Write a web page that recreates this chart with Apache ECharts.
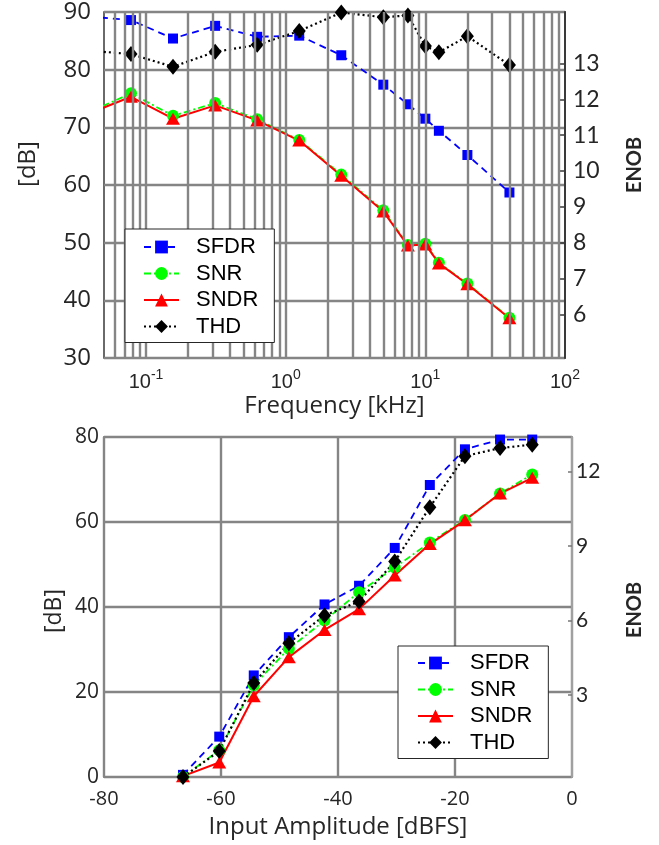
<!DOCTYPE html>
<html><head><meta charset="utf-8">
<script src="https://cdn.jsdelivr.net/npm/echarts@6/dist/echarts.min.js"></script>
<style>html,body{margin:0;padding:0;background:#fff}#c{width:659px;height:845px}</style>
</head><body><div id="c"></div>
<script>
// ---- top chart: metrics vs input frequency ----
const freqKHz = [0.039, 0.078, 0.156, 0.3125, 0.625, 1.25, 2.5, 5, 7.5, 10, 12.5, 20, 40];
const sfdrF = [89.2, 88.6, 85.4, 87.6, 85.7, 85.9, 82.5, 77.4, 74.0, 71.5, 69.4, 65.2, 58.7];
const snrF  = [72.6, 75.9, 72.0, 74.2, 71.4, 67.8, 61.8, 55.6, 49.6, 49.8, 46.5, 42.9, 37.0];
const sndrF = [72.4, 75.3, 71.5, 73.8, 71.2, 67.7, 61.6, 55.4, 49.5, 49.7, 46.4, 42.8, 36.9];
const thdF  = [83.3, 82.7, 80.5, 83.1, 84.3, 86.7, 89.9, 89.1, 89.4, 84.1, 83.0, 85.8, 80.8];
const freqTicks = [0.1, 1, 10, 100];
const enobTicksTop = [6, 7, 8, 9, 10, 11, 12, 13];

// ---- bottom chart: metrics vs input amplitude ----
const ampDBFS = [-66.5, -60.3, -54.4, -48.4, -42.3, -36.4, -30.3, -24.3, -18.3, -12.3, -6.8];
const sfdrA = [0.5, 9.5, 23.9, 32.9, 40.6, 45.0, 53.9, 68.7, 77.1, 79.4, 79.4];
const snrA  = [0.0, 6.3, 21.6, 30.2, 36.8, 43.5, 49.3, 55.2, 60.5, 66.7, 71.2];
const sndrA = [0.2, 3.4, 19.0, 28.2, 34.6, 39.5, 47.4, 54.8, 60.4, 66.7, 70.4];
const thdA  = [0.0, 6.1, 22.1, 31.5, 38.0, 41.3, 50.7, 63.5, 75.5, 77.4, 78.2];
const enobTicksBot = [3, 6, 9, 12];

const names = ['SFDR', 'SNR', 'SNDR', 'THD'];
const TXT = '#262626';
const GRID = '#858585';

const sty = {
  SFDR: {color: '#0000ff', symbol: 'rect', size: 10, type: [7, 5], width: 1.8},
  SNR:  {color: '#00ff00', symbol: 'circle', size: 12, type: [7, 3, 2, 3], width: 1.8},
  SNDR: {color: '#ff0000', symbol: 'triangle', size: [14, 12], type: 'solid', width: 2},
  THD:  {color: '#000000', symbol: 'diamond', size: [13, 16], type: [2, 3], width: 2.2}
};

function mk(name, xs, ys, idx) {
  const s = sty[name];
  return {
    name: name, type: 'line', xAxisIndex: idx, yAxisIndex: idx * 2,
    data: xs.map((v, i) => [v, ys[i]]),
    symbol: s.symbol, symbolSize: s.size, showSymbol: true, clip: true,
    itemStyle: {color: s.color, borderWidth: 0},
    lineStyle: {color: s.color, width: s.width, type: s.type},
    emphasis: {disabled: true}, animation: false, z: 3
  };
}

// minor log grid lines (1..9 per decade) for the frequency axis
const logGrid = [];
[0.01, 0.1, 1, 10].forEach(d => { for (let k = 1; k <= 9; k++) { const v = +(d * k).toPrecision(3); if (v > 0.05 && v < 100) logGrid.push(v); } });

const topData = [sfdrF, snrF, sndrF, thdF];
const botData = [sfdrA, snrA, sndrA, thdA];

const series = [];
series.push({
  type: 'line', xAxisIndex: 0, yAxisIndex: 0, data: [], z: 1, silent: true, animation: false,
  markLine: {silent: true, symbol: ['none', 'none'], label: {show: false}, animation: false,
    lineStyle: {color: GRID, width: 2.4, type: 'solid', opacity: 1},
    emphasis: {disabled: true},
    data: logGrid.map(v => ({xAxis: v}))}
});
names.forEach((n, i) => series.push(mk(n, freqKHz, topData[i], 0)));
names.forEach((n, i) => series.push(mk(n, ampDBFS, botData[i], 1)));

const legendBase = {
  orient: 'vertical', data: names, itemWidth: 35, itemHeight: 16, itemGap: 4.5,
  borderColor: '#262626', borderWidth: 1, backgroundColor: '#fff',
  textStyle: {fontFamily: 'Liberation Sans', fontSize: 22, color: '#000', padding: [0, 0, 0, 12], lineHeight: 22},
  selectedMode: false, z: 10
};

const option = {
  animation: false,
  backgroundColor: '#fff',
  grid: [
    {left: 104, top: 10, width: 461, height: 348, show: true, borderColor: '#3a3a3a', borderWidth: 1.5, backgroundColor: 'transparent'},
    {left: 104, top: 437, width: 468, height: 340, show: true, borderColor: '#3a3a3a', borderWidth: 1.5, backgroundColor: 'transparent'}
  ],
  legend: [
    Object.assign({}, legendBase, {left: 125, top: 229, padding: [7, 16, 5, 18]}),
    Object.assign({}, legendBase, {left: 398, top: 646, padding: [6, 16, 5, 19]})
  ],
  xAxis: [
    {type: 'log', logBase: 10, gridIndex: 0, min: 0.05, max: 100,
     name: 'Frequency [kHz]', nameLocation: 'middle', nameGap: 36,
     nameTextStyle: {fontFamily: 'Open Sans', fontSize: 24, color: TXT},
     axisLine: {show: false}, axisTick: {show: false}, splitLine: {show: false},
     axisLabel: {customValues: freqTicks, margin: 10,
       formatter: v => '{b|10}{s|' + Math.round(Math.log10(v)) + '}',
       rich: {b: {fontFamily: 'Liberation Sans', fontSize: 20, color: TXT, verticalAlign: 'bottom'},
              s: {fontFamily: 'Liberation Sans', fontSize: 14, color: TXT, padding: [0, 0, 10, 0], verticalAlign: 'bottom'}}}},
    {type: 'value', gridIndex: 1, min: -80, max: 0, interval: 20,
     name: 'Input Amplitude [dBFS]', nameLocation: 'middle', nameGap: 38,
     nameTextStyle: {fontFamily: 'Open Sans', fontSize: 24, color: TXT},
     axisLine: {show: false}, axisTick: {show: false},
     splitLine: {show: true, lineStyle: {color: GRID, width: 2.4}},
     axisLabel: {fontFamily: 'Open Sans', fontSize: 20, color: TXT, margin: 12}}
  ],
  yAxis: [
    {type: 'value', gridIndex: 0, min: 30, max: 90, interval: 10, position: 'left',
     axisLine: {show: false}, axisTick: {show: false},
     splitLine: {show: true, lineStyle: {color: GRID, width: 2.4}},
     axisLabel: {fontFamily: 'Open Sans', fontSize: 24, color: TXT, margin: 13}},
    {type: 'value', gridIndex: 0, min: 4.78, max: 14.44, position: 'right',
     axisLine: {show: true, lineStyle: {color: '#3a3a3a', width: 2}},
     axisTick: {show: true, inside: true, length: 5, customValues: enobTicksTop, lineStyle: {color: '#3a3a3a', width: 1.5}},
     splitLine: {show: false},
     axisLabel: {customValues: enobTicksTop, fontFamily: 'Lato', fontSize: 23, color: TXT, margin: 8}},
    {type: 'value', gridIndex: 1, min: 0, max: 80, interval: 20, position: 'left',
     axisLine: {show: false}, axisTick: {show: false},
     splitLine: {show: true, lineStyle: {color: GRID, width: 2.4}},
     axisLabel: {fontFamily: 'Open Sans', fontSize: 21, color: TXT, margin: 5}},
    {type: 'value', gridIndex: 1, min: -0.3, max: 13.39, position: 'right',
     axisLine: {show: true, lineStyle: {color: '#a0a0a0', width: 2}},
     axisTick: {show: true, inside: true, length: 4, customValues: enobTicksBot, lineStyle: {color: '#777', width: 1.5}},
     splitLine: {show: false},
     axisLabel: {customValues: enobTicksBot, fontFamily: 'Lato', fontSize: 21, color: TXT, margin: 4}}
  ],
  graphic: [
    {type: 'text', x: 28, y: 164, rotation: Math.PI / 2, style: {text: '[dB]', fontFamily: 'Open Sans', fontSize: 24, fill: TXT, textAlign: 'center', textVerticalAlign: 'middle'}},
    {type: 'text', x: 54, y: 611, rotation: Math.PI / 2, style: {text: '[dB]', fontFamily: 'Open Sans', fontSize: 23, fill: TXT, textAlign: 'center', textVerticalAlign: 'middle'}},
    {type: 'text', x: 635, y: 165, rotation: Math.PI / 2, style: {text: 'ENOB', fontFamily: 'Lato', fontWeight: 'bold', fontSize: 20, fill: TXT, textAlign: 'center', textVerticalAlign: 'middle'}},
    {type: 'text', x: 635, y: 610, rotation: Math.PI / 2, style: {text: 'ENOB', fontFamily: 'Lato', fontWeight: 'bold', fontSize: 20, fill: TXT, textAlign: 'center', textVerticalAlign: 'middle'}}
  ],
  series: series
};

const chart = echarts.init(document.getElementById('c'));
chart.setOption(option);
</script>
</body></html>
